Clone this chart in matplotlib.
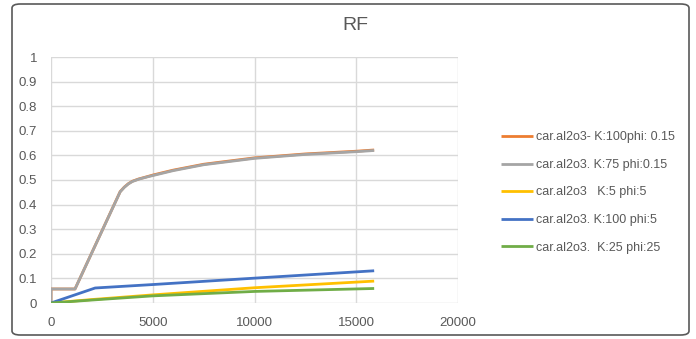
import numpy as np
import matplotlib.pyplot as plt
from matplotlib.patches import FancyBboxPatch

plt.rcParams['font.family'] = ['Liberation Sans', 'DejaVu Sans']

# RF curves, one x/y pair per run
x_orange = [0, 0, 1180, 3400, 3600, 3800, 4000, 4300, 4700, 5000, 6000, 7500, 10000, 12500, 15000, 15880]
y_orange = [0, 0.057, 0.057, 0.453, 0.471, 0.485, 0.495, 0.504, 0.513, 0.520, 0.540, 0.564, 0.590, 0.606, 0.617, 0.622]

x_gray = [0, 0, 1180, 3400, 3600, 3800, 4000, 4300, 4700, 5000, 6000, 7500, 10000, 12500, 15000, 15880]
y_gray = [0, 0.057, 0.057, 0.452, 0.470, 0.484, 0.494, 0.503, 0.512, 0.518, 0.538, 0.562, 0.588, 0.604, 0.615, 0.620]

x_yellow = [0, 2000, 5000, 10000, 15880]
y_yellow = [0, 0.014, 0.033, 0.062, 0.089]

x_blue = [0, 2170, 5000, 10000, 15880]
y_blue = [0, 0.061, 0.075, 0.101, 0.131]

x_green = [0, 2000, 5000, 10000, 15880]
y_green = [0, 0.012, 0.029, 0.047, 0.059]

labels = ['car.al2o3- K:100phi: 0.15', 'car.al2o3. K:75 phi:0.15',
          'car.al2o3   K:5 phi:5', 'car.al2o3. K:100 phi:5',
          'car.al2o3.  K:25 phi:25']
colors = ['#ED7D31', '#A5A5A5', '#FFC000', '#4472C4', '#70AD47']

fig = plt.figure(figsize=(6.96, 3.39), dpi=100)

# rounded chart frame, kept behind the axes
frame = FancyBboxPatch((12 / 696, 4 / 339), 677 / 696, 331 / 339,
                       boxstyle='round,pad=0,rounding_size=0.012',
                       transform=fig.transFigure, facecolor='white',
                       edgecolor='#595959', linewidth=1.2, zorder=-5)
fig.patches.append(frame)

ax = fig.add_axes([51 / 696, 36 / 339, 407 / 696, 246 / 339])
ax.set_facecolor('none')

series = [(x_orange, y_orange), (x_gray, y_gray), (x_yellow, y_yellow),
          (x_blue, y_blue), (x_green, y_green)]
for (xs, ys), lab, col in zip(series, labels, colors):
    ax.plot(xs, ys, color=col, lw=2, label=lab, solid_capstyle='butt',
            solid_joinstyle='round')

ax.set_xlim(0, 20000)
ax.set_ylim(0, 1)
ax.set_xticks(np.arange(0, 20001, 5000))
ax.set_yticks(np.arange(0, 1.01, 0.1))
ax.set_yticklabels(['0', '0.1', '0.2', '0.3', '0.4', '0.5', '0.6', '0.7', '0.8', '0.9', '1'])
ax.grid(True, color='#D9D9D9', lw=1)
ax.set_axisbelow(True)
for s in ax.spines.values():
    s.set_visible(False)
ax.tick_params(length=0, labelsize=9.5, labelcolor='#595959')
ax.tick_params(axis='y', pad=10)
ax.tick_params(axis='x', pad=10)

fig.text(355 / 696, 1 - 25 / 339, 'RF', ha='center', va='center',
         fontsize=14, color='#595959')

fig.legend(loc='upper left', bbox_to_anchor=(490 / 696, 1 - 120 / 339),
           frameon=False, fontsize=9, labelcolor='#595959',
           handlelength=2.5, handletextpad=0.3, labelspacing=1.25)

fig.savefig('out.png', dpi=100)
